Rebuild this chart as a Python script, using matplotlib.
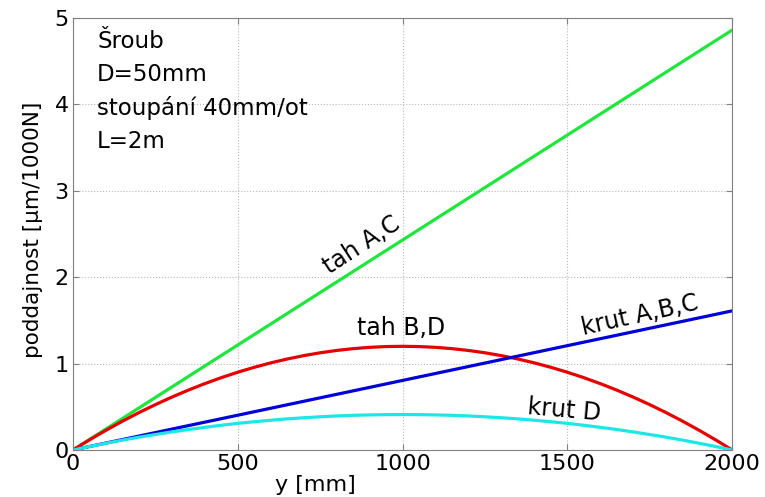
import numpy as np
import matplotlib.pyplot as plt

plt.rcParams['font.family'] = ['DejaVu Sans']

# values, x in mm (every 50 mm)
y_mm = list(range(0, 2001, 50))
tah_AC = [0, 4.86]  # straight line, read at both ends
tah_AC_x = [0, 2000]
krut_ABC = [0, 1.61]
krut_ABC_x = [0, 2000]
tah_BD = [0, 0.117, 0.228, 0.333, 0.432, 0.525, 0.612, 0.693, 0.768, 0.837, 0.90,
          0.957, 1.008, 1.053, 1.092, 1.125, 1.152, 1.173, 1.188, 1.197, 1.20,
          1.197, 1.188, 1.173, 1.152, 1.125, 1.092, 1.053, 1.008, 0.957, 0.90,
          0.837, 0.768, 0.693, 0.612, 0.525, 0.432, 0.333, 0.228, 0.117, 0]
krut_D = [0, 0.040, 0.078, 0.114, 0.148, 0.179, 0.209, 0.237, 0.262, 0.286, 0.308,
          0.327, 0.344, 0.360, 0.373, 0.384, 0.394, 0.401, 0.406, 0.409, 0.41,
          0.409, 0.406, 0.401, 0.394, 0.384, 0.373, 0.360, 0.344, 0.327, 0.308,
          0.286, 0.262, 0.237, 0.209, 0.179, 0.148, 0.114, 0.078, 0.040, 0]

fig = plt.figure(figsize=(7.65, 4.97), dpi=100)
ax = fig.add_axes([0.0954, 0.0946, 0.8616, 0.8692])

ax.plot(tah_AC_x, tah_AC, color='#1ee63c', lw=2.3)
ax.plot(y_mm, tah_BD, color='#e60000', lw=2.3)
ax.plot(krut_ABC_x, krut_ABC, color='#0000d8', lw=2.3)
ax.plot(y_mm, krut_D, color='#1ee6e6', lw=2.3)

ax.set_xlim(0, 2000)
ax.set_ylim(0, 5)
ax.set_xticks([0, 500, 1000, 1500, 2000])
ax.set_yticks([0, 1, 2, 3, 4, 5])
ax.grid(True, linestyle=':', color='#b8b8b8', lw=0.8)
ax.tick_params(direction='in', top=True, right=True, labelsize=16, colors='#808080',
               labelcolor='black', length=4, pad=3)
for s in ax.spines.values():
    s.set_color('#808080')

ax.set_xlabel('y [mm]', fontsize=16)
ax.xaxis.set_label_coords(0.367, -0.057)
ax.set_ylabel('poddajnost [\u03bcm/1000N]', fontsize=15.5)
ax.yaxis.set_label_coords(-0.045, 0.51)

ax.text(73, 4.86, 'Šroub\nD=50mm\nstoupání 40mm/ot\nL=2m', fontsize=16.5,
        va='top', ha='left', linespacing=1.55)
ax.text(877, 2.37, 'tah A,C', fontsize=17, rotation=33, ha='center', va='center')
ax.text(995, 1.41, 'tah B,D', fontsize=17, ha='center', va='center')
ax.text(1721, 1.56, 'krut A,B,C', fontsize=17, rotation=12.5, ha='center', va='center')
ax.text(1490, 0.46, 'krut D', fontsize=17, rotation=-5, ha='center', va='center')

fig.savefig('out.png')
